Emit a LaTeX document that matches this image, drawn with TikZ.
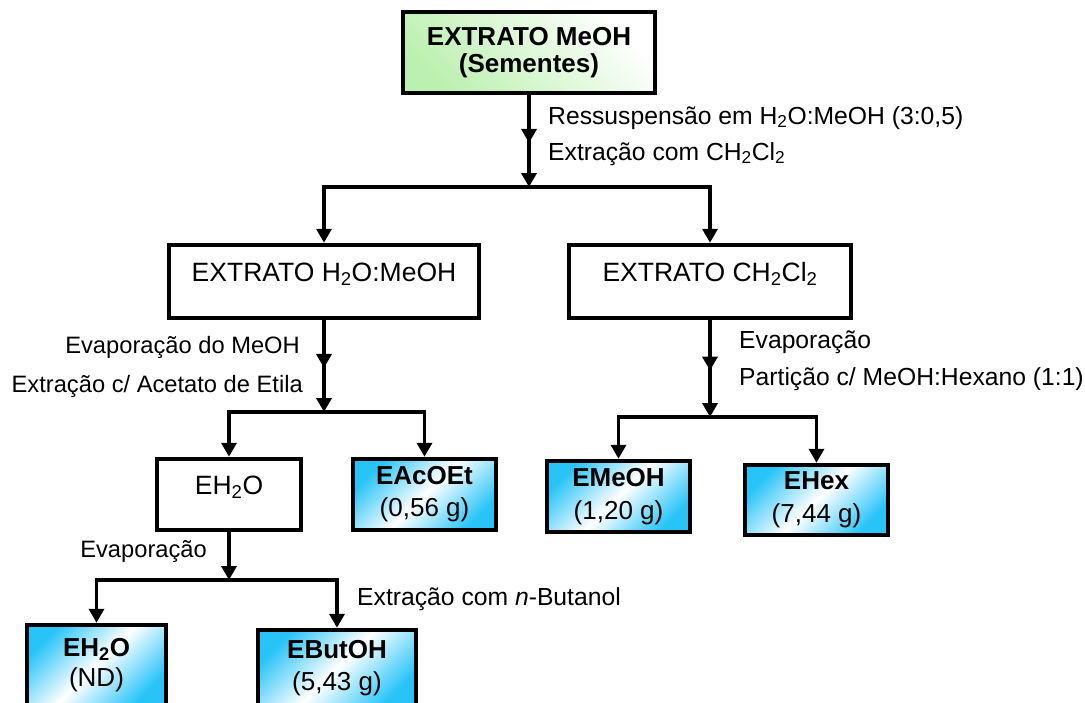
\documentclass[tikz,border=0pt]{standalone}
\usepackage{fontspec}
\setmainfont{Liberation Sans}
\usetikzlibrary{arrows.meta,decorations.markings}
\definecolor{fracblue}{RGB}{40,196,248}
\definecolor{seedgreen}{RGB}{188,240,176}

\begin{document}
\begin{tikzpicture}[x=1pt,y=-1pt,
  box/.style={draw, line width=4.5pt, inner sep=0pt, align=center,
    font=\fontsize{26}{31}\selectfont},
  plain/.style={box, fill=white, font=\fontsize{26.5}{31}\selectfont},
  fraction/.style={box, top color=fracblue, bottom color=fracblue,
    middle color=white, shading angle=45},
  seed/.style={box, top color=white, bottom color=seedgreen, shading angle=-45},
  lbl/.style={inner sep=0pt, font=\fontsize{24.7}{28}\selectfont},
  lbll/.style={inner sep=0pt, font=\fontsize{23.7}{28}\selectfont},
  tip/.style={-{Triangle[width=15pt,length=14pt]}},
  flow/.style={line width=3.5pt, tip},
  twohead/.style={flow, postaction={decorate}, decoration={markings,
    mark=at position 0.52 with {\arrow{Triangle[width=15pt,length=14pt]}}}}
]
\useasboundingbox (0,0) rectangle (1085,702);
\clip (0,0) rectangle (1085,702);

% extracts and fractions
\node[seed, minimum width=252, minimum height=81,
  font=\fontsize{26}{27}\selectfont\bfseries] (meoh) at (529,52.5)
  {EXTRATO MeOH\\(Sementes)};
\node[plain, minimum width=310, minimum height=73, text height=18, text depth=18]
  (aq) at (324,281.5) {EXTRATO H\textsubscript{2}O:MeOH};
\node[plain, minimum width=282, minimum height=73, text height=18, text depth=18]
  (dcm) at (710,281.5) {EXTRATO CH\textsubscript{2}Cl\textsubscript{2}};
\node[plain, minimum width=144, minimum height=71, text height=18, text depth=18]
  (eh) at (229,494.5) {EH\textsubscript{2}O};
\node[fraction, minimum width=143, minimum height=71,
  font=\fontsize{26}{32}\selectfont] (eac) at (424.5,494.5)
  {\textbf{EAcOEt}\\(0,56 g)};
\node[fraction, minimum width=143, minimum height=71,
  font=\fontsize{26}{33}\selectfont] (emeoh) at (618.5,496.5)
  {\textbf{EMeOH}\\(1,20 g)};
\node[fraction, minimum width=143, minimum height=70,
  font=\fontsize{26}{33}\selectfont] (ehex) at (816.5,500)
  {\textbf{EHex}\\(7,44 g)};
\node[fraction, minimum width=139, minimum height=80,
  font=\fontsize{26}{30}\selectfont] (ehn) at (96.5,665)
  {\textbf{EH\textsubscript{2}O}\\(ND)};
\node[fraction, minimum width=158, minimum height=76,
  font=\fontsize{26}{32}\selectfont] (ebut) at (337,668)
  {\textbf{EButOH}\\(5,43 g)};

% branching points
\coordinate (j1) at (529,187);
\coordinate (j2) at (324,412);
\coordinate (j3) at (710,417);
\coordinate (j4) at (229,580);

% connectors
\draw[twohead] (meoh.south) -- (j1);
\draw[flow] (j1) -| (aq.north);
\draw[flow] (j1) -| (dcm.north);

\draw[twohead] (aq.south) -- (j2);
\draw[flow] (j2) -| (eh.north);
\draw[flow] (j2) -| (eac.north);

\draw[twohead] (dcm.south) -- (j3);
\draw[flow] (j3) -| (emeoh.north);
\draw[flow] (j3) -| (ehex.north);

\draw[flow] (eh.south) -- (j4);
\draw[flow] (j4) -| (ehn.north);
\draw[flow] (j4) -| (ebut.north);

% step labels
\node[lbl, anchor=base west] (s1) at (548,124)
  {Ressuspensão em H\textsubscript{2}O:MeOH (3:0,5)};
\node[lbl, anchor=base west] (s2) at (548,160)
  {Extração com CH\textsubscript{2}Cl\textsubscript{2}};
\node[lbll, anchor=base east] (s3) at (300,353) {Evaporação do MeOH};
\node[lbll, anchor=base east] (s4) at (303,392) {Extração c/ Acetato de Etila};
\node[lbl, anchor=base west] (s5) at (739,348) {Evaporação};
\node[lbl, anchor=base west] (s6) at (739,385) {Partição c/ MeOH:Hexano (1:1)};
\node[lbll, anchor=base east] (s7) at (207,557) {Evaporação};
\node[lbl, anchor=base west] (s8) at (357,605)
  {Extração com \textit{n}-Butanol};
\end{tikzpicture}
\end{document}
